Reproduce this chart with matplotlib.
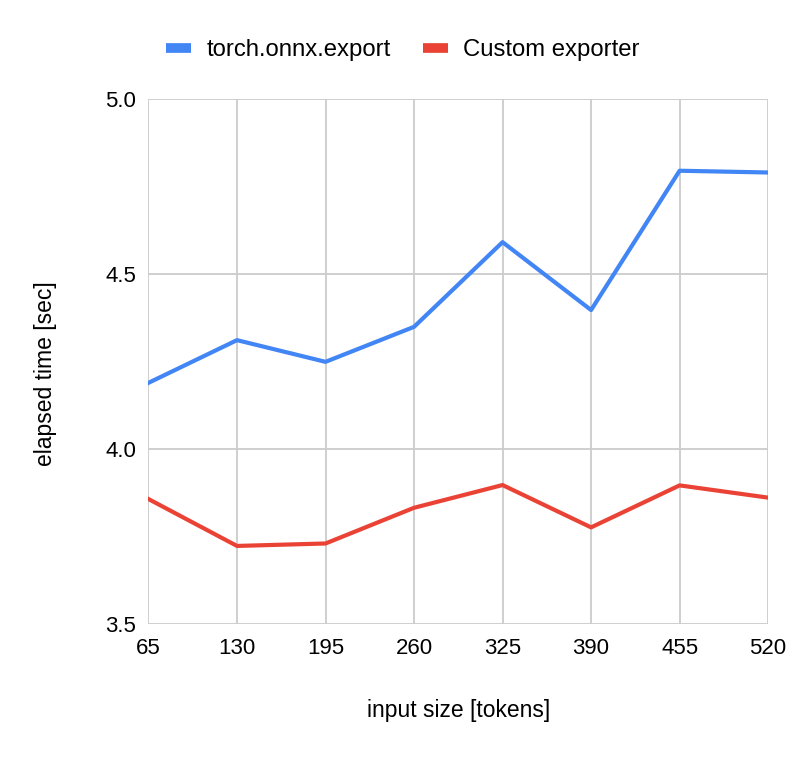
import matplotlib.pyplot as plt
import numpy as np

plt.rcParams['font.family'] = ['Liberation Sans', 'DejaVu Sans']

tokens = [65, 130, 195, 260, 325, 390, 455, 520]
torch_export = [4.189, 4.311, 4.249, 4.349, 4.591, 4.397, 4.795, 4.790]
custom_export = [3.857, 3.723, 3.730, 3.832, 3.897, 3.776, 3.896, 3.861]
yticks = [3.5, 4.0, 4.5, 5.0]

fig = plt.figure(figsize=(8.06, 7.58), dpi=100)
ax = fig.add_axes([0.1842, 0.1768, 0.7688, 0.6926])

l1, = ax.plot(tokens, torch_export, color='#4285f4', lw=3, label='torch.onnx.export')
l2, = ax.plot(tokens, custom_export, color='#ea4335', lw=3, label='Custom exporter')

ax.set_xlim(65, 520)
ax.set_ylim(3.5, 5.0)
ax.set_xticks(tokens)
ax.set_yticks(yticks)
ax.set_yticklabels([f"{v:.1f}" for v in yticks])
ax.grid(True, color='#cccccc', lw=1.3)
ax.set_axisbelow(True)
for s in ax.spines.values():
    s.set_visible(False)
ax.tick_params(length=0, labelsize=16)
ax.tick_params(axis='x', pad=10)
ax.tick_params(axis='y', pad=9)

ax.set_xlabel("input size [tokens]", fontsize=16.5, labelpad=29)
ax.set_ylabel("elapsed time [sec]", fontsize=16.5)
ax.yaxis.set_label_coords(-0.148, 0.476)

fig.legend(handles=[l1, l2], loc='center', bbox_to_anchor=(0.5, 0.934), ncol=2,
           frameon=False, fontsize=17.2, handlelength=1.05, columnspacing=1.38, handletextpad=0.63)
for h in fig.legends[0].get_lines():
    h.set_linewidth(7)
    h.set_solid_capstyle('butt')

fig.savefig("out.png", dpi=100)
